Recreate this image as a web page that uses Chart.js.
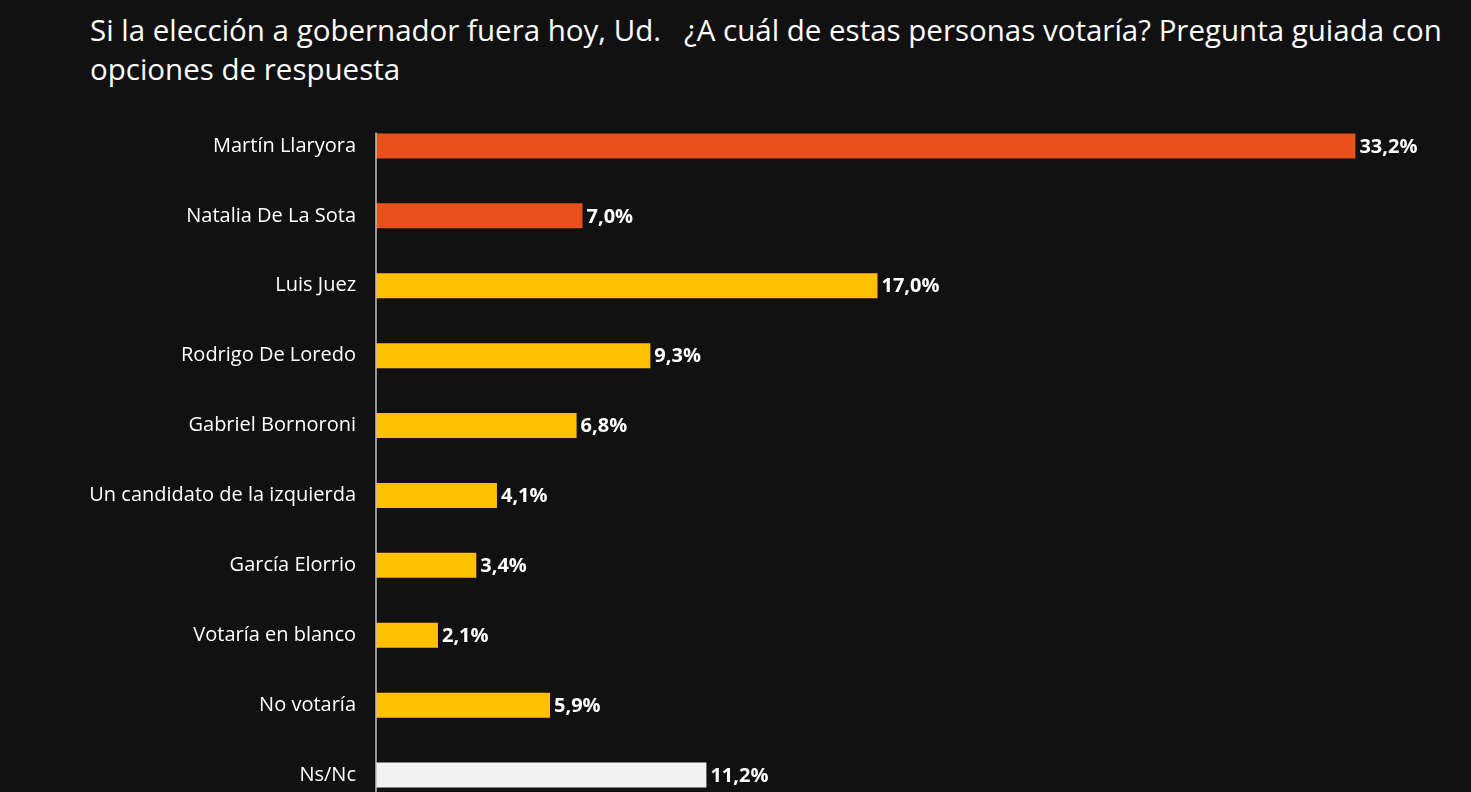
<!DOCTYPE html>
<html>
<head>
<meta charset="utf-8">
<script src="https://cdn.jsdelivr.net/npm/chart.js@4/dist/chart.umd.min.js"></script>
<style>
  html, body { margin: 0; padding: 0; background: #111111; overflow: hidden; }
  body { width: 1471px; height: 792px; position: relative; }
  #title {
    position: absolute; left: 90px; top: 10px; width: 1380px;
    color: #ffffff; font-family: "Open Sans", sans-serif; font-size: 29.5px; line-height: 39px;
    white-space: pre;
  }
  #chart { position: absolute; left: 0; top: 79px; }
</style>
</head>
<body>
<div id="title">Si la elección a gobernador fuera hoy, Ud.   ¿A cuál de estas personas votaría? Pregunta guiada con
opciones de respuesta</div>
<canvas id="chart" width="1438" height="763"></canvas>
<script>
const categories = ["Martín Llaryora", "Natalia De La Sota", "Luis Juez", "Rodrigo De Loredo", "Gabriel Bornoroni",
  "Un candidato de la izquierda", "García Elorrio", "Votaría en blanco", "No votaría", "Ns/Nc"];
const values = [33.2, 7.0, 17.0, 9.3, 6.8, 4.1, 3.4, 2.1, 5.9, 11.2];
const barColors = ["#E8501C", "#E8501C", "#FFC000", "#FFC000", "#FFC000", "#FFC000", "#FFC000", "#FFC000", "#FFC000", "#F2F2F2"];

const fontFamily = "'Open Sans', sans-serif";

// value labels at the end of each bar, plus the vertical axis line
const barLabels = {
  id: "barLabels",
  afterDatasetsDraw(chart) {
    const ctx = chart.ctx;
    const meta = chart.getDatasetMeta(0);
    ctx.save();
    const first = meta.data[0];
    ctx.strokeStyle = "#bfbfbf";
    ctx.lineWidth = 1.5;
    ctx.beginPath();
    ctx.moveTo(chart.chartArea.left, first.y - first.height / 2 - 1);
    ctx.lineTo(chart.chartArea.left, chart.height);
    ctx.stroke();

    ctx.fillStyle = "#ffffff";
    ctx.font = "bold 20px " + fontFamily;
    ctx.textAlign = "left";
    ctx.textBaseline = "middle";
    meta.data.forEach((bar, i) => {
      ctx.fillText(values[i].toFixed(1).replace(".", ",") + "%", bar.x + 4, bar.y + 1);
    });
    ctx.restore();
  }
};

new Chart(document.getElementById("chart"), {
  type: "bar",
  data: {
    labels: categories,
    datasets: [{
      data: values,
      backgroundColor: barColors,
      borderWidth: 0,
      barPercentage: 1,
      categoryPercentage: 25 / 70
    }]
  },
  options: {
    indexAxis: "y",
    responsive: false,
    animation: false,
    layout: { padding: 0 },
    plugins: { legend: { display: false }, title: { display: false }, tooltip: { enabled: false } },
    scales: {
      x: { display: false, min: 0, max: 36 },
      y: {
        afterFit(scale) { scale.width = 376; },
        grid: { display: false, drawTicks: false },
        border: { display: false },
        ticks: { color: "#ffffff", padding: 20, font: { family: fontFamily, size: 20 } }
      }
    }
  },
  plugins: [barLabels]
});
</script>
</body>
</html>
